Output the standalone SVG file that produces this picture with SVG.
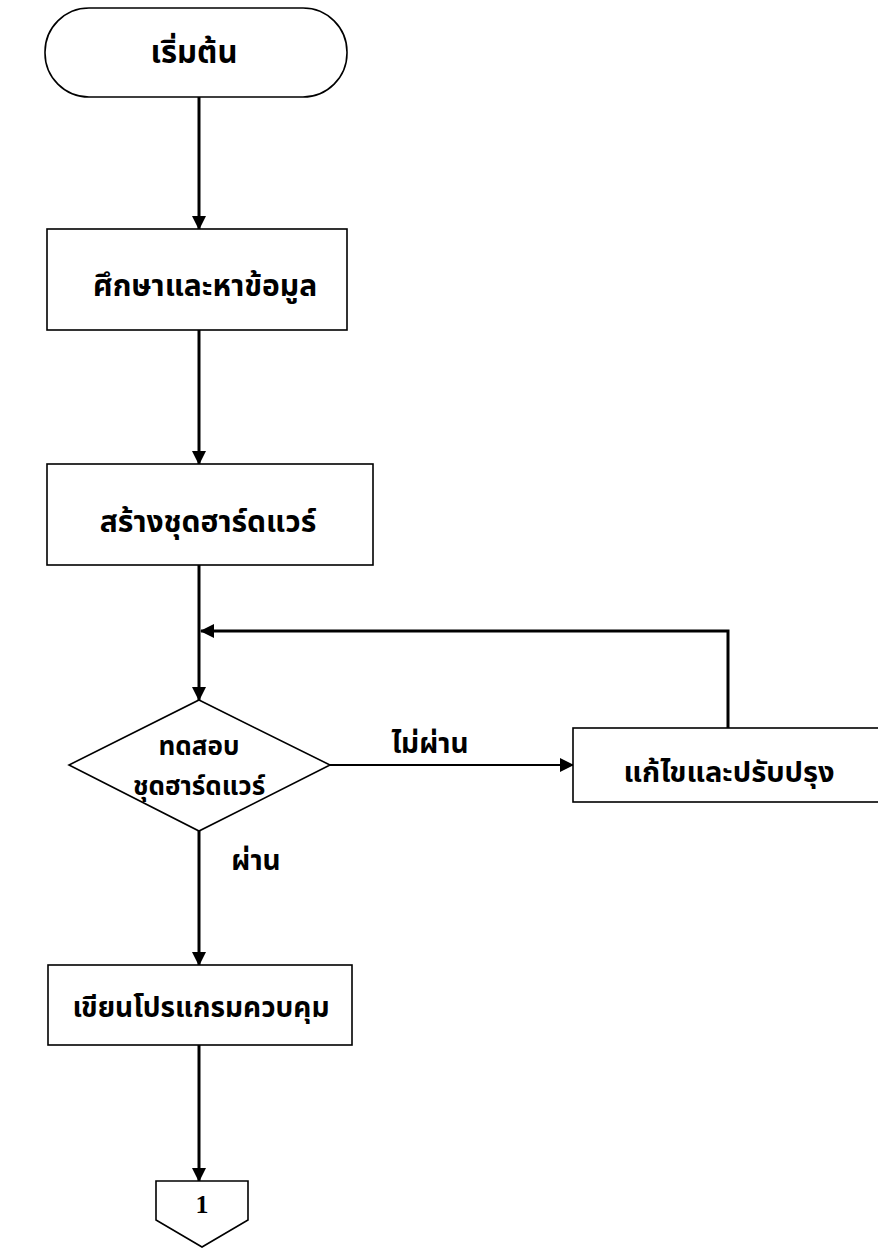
<svg xmlns="http://www.w3.org/2000/svg" width="878" height="1258" viewBox="0 0 878 1258">
<style>
.s{fill:#fff;stroke:#000;stroke-width:1.6}
.t{font-family:"Noto Sans Thai","Noto Sans","DejaVu Sans",sans-serif;font-weight:bold;font-size:30px;fill:#000;text-anchor:middle}
.c{fill:none;stroke:#000;stroke-width:3}
.l{fill:none;stroke:#000;stroke-width:2}
</style>
<defs>
<marker id="b" markerWidth="14" markerHeight="14" refX="13" refY="7" orient="auto" markerUnits="userSpaceOnUse" viewBox="0 0 14 14">
<path d="M0,0 L14,7 L0,14 Z" fill="#000"/>
</marker>
</defs>
<rect width="878" height="1258" fill="#fff"/>
<g id="connectors">
<line class="c" x1="199" y1="97" x2="199" y2="229" marker-end="url(#b)"/>
<line class="c" x1="199" y1="330" x2="199" y2="464" marker-end="url(#b)"/>
<line class="c" x1="199" y1="565" x2="199" y2="700" marker-end="url(#b)"/>
<polyline class="c" points="728,728 728,631 201,631" marker-end="url(#b)"/>
<line class="l" x1="330" y1="765" x2="573" y2="765" marker-end="url(#b)"/>
<line class="c" x1="199" y1="831" x2="199" y2="965" marker-end="url(#b)"/>
<line class="c" x1="199" y1="1045" x2="199" y2="1181" marker-end="url(#b)"/>
<text class="t" x="430" y="753" style="font-size:28px">ไม่ผ่าน</text>
<text class="t" x="256" y="870" style="font-size:28px">ผ่าน</text>
</g>
<g id="start">
<rect class="s" x="45" y="8" width="302" height="89" rx="44" ry="44"/>
<text class="t" x="194" y="63" style="font-size:31px">เริ่มต้น</text>
</g>
<g id="study">
<rect class="s" x="47" y="229" width="300" height="101"/>
<text class="t" x="205" y="296">ศึกษาและหาข้อมูล</text>
</g>
<g id="build">
<rect class="s" x="47" y="464" width="326" height="101"/>
<text class="t" x="208" y="532">สร้างชุดฮาร์ดแวร์</text>
</g>
<g id="test">
<polygon class="s" points="199,700 330,765 199,831 69,765"/>
<text class="t" x="199" y="755" style="font-size:26px">ทดสอบ</text>
<text class="t" x="199" y="795" style="font-size:26px">ชุดฮาร์ดแวร์</text>
</g>
<g id="fix">
<rect class="s" x="573" y="728" width="310" height="74"/>
<text class="t" x="729" y="782" style="font-size:29px">แก้ไขและปรับปรุง</text>
</g>
<g id="code">
<rect class="s" x="48" y="965" width="304" height="80"/>
<text class="t" x="201" y="1017" style="font-size:28px">เขียนโปรแกรมควบคุม</text>
</g>
<g id="connector1">
<polygon class="s" points="156,1181 248,1181 248,1220 202,1247 156,1220"/>
<text class="t" x="202" y="1213" style="font-family:'Liberation Serif',serif;font-size:26px">1</text>
</g>
</svg>
